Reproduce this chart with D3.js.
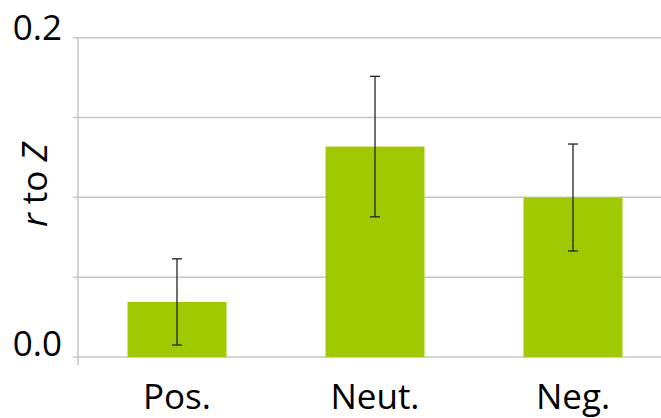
<!DOCTYPE html>
<html>
<head>
<meta charset="utf-8">
<script src="https://cdn.jsdelivr.net/npm/d3@7"></script>
<style>
  body { margin: 0; background: #fff; }
  text { font-family: "Open Sans", sans-serif; fill: #000; }
</style>
</head>
<body>
<div id="chart"></div>
<script>
// data
var categories = ["Pos.", "Neut.", "Neg."];
var values = [0.0345, 0.1318, 0.0999];
var errors = [0.0270, 0.0440, 0.0335];
var gridTicks = [0, 0.05, 0.1, 0.15, 0.2];
var tickLabels = ["0.0", "0.2"];

var width = 661;
var height = 418;
var margin = { left: 78, top: 37.7, bottom: 61 };
var plotRight = 672;

var svg = d3.select("#chart")
    .append("svg")
    .attr("width", width)
    .attr("height", height);

var x = d3.scaleBand()
    .domain(categories)
    .range([margin.left, plotRight])
    .paddingInner(0.5)
    .paddingOuter(0.25);

var y = d3.scaleLinear()
    .domain([0, 0.2])
    .range([height - margin.bottom, margin.top]);

// grid lines
svg.append("g")
    .selectAll("line")
    .data(gridTicks)
    .enter()
    .append("line")
    .attr("x1", margin.left - 5)
    .attr("x2", width)
    .attr("y1", d => y(d))
    .attr("y2", d => y(d))
    .attr("stroke", "#c6c6c6")
    .attr("stroke-width", 1.5);

// y axis line
svg.append("line")
    .attr("x1", margin.left)
    .attr("x2", margin.left)
    .attr("y1", y(0.2))
    .attr("y2", y(0) + 8)
    .attr("stroke", "#c6c6c6")
    .attr("stroke-width", 1.5);

// y tick labels (only ends)
svg.append("g")
    .selectAll("text")
    .data([0, 0.2])
    .enter()
    .append("text")
    .attr("x", 62)
    .attr("y", (d, i) => y(d) + (i == 0 ? -1 : 2.5))
    .attr("text-anchor", "end")
    .attr("font-size", 35)
    .text((d, i) => tickLabels[i]);

// bars
svg.append("g")
    .selectAll("rect")
    .data(values)
    .enter()
    .append("rect")
    .attr("x", (d, i) => x(categories[i]))
    .attr("width", x.bandwidth())
    .attr("y", d => y(d))
    .attr("height", d => y(0) - y(d))
    .attr("fill", "#a0c902");

// error bars
var eb = svg.append("g")
    .attr("stroke", "#222")
    .attr("stroke-width", 1.3);

values.forEach(function (v, i) {
    var cx = x(categories[i]) + x.bandwidth() / 2;
    var hi = y(v + errors[i]);
    var lo = y(v - errors[i]);
    eb.append("line").attr("x1", cx).attr("x2", cx).attr("y1", hi).attr("y2", lo);
    eb.append("line").attr("x1", cx - 5).attr("x2", cx + 5).attr("y1", hi).attr("y2", hi);
    eb.append("line").attr("x1", cx - 5).attr("x2", cx + 5).attr("y1", lo).attr("y2", lo);
});

// category labels
svg.append("g")
    .selectAll("text")
    .data(categories)
    .enter()
    .append("text")
    .attr("x", d => x(d) + x.bandwidth() / 2)
    .attr("y", 409)
    .attr("text-anchor", "middle")
    .attr("font-size", 35)
    .text(d => d);

// y axis title
var yt = svg.append("text")
    .attr("transform", "translate(47,185) rotate(-90)")
    .attr("text-anchor", "middle")
    .attr("font-size", 35);
yt.append("tspan").attr("font-style", "italic").text("r");
yt.append("tspan").text(" to ");
yt.append("tspan").attr("font-style", "italic").text("Z");
</script>
</body>
</html>
